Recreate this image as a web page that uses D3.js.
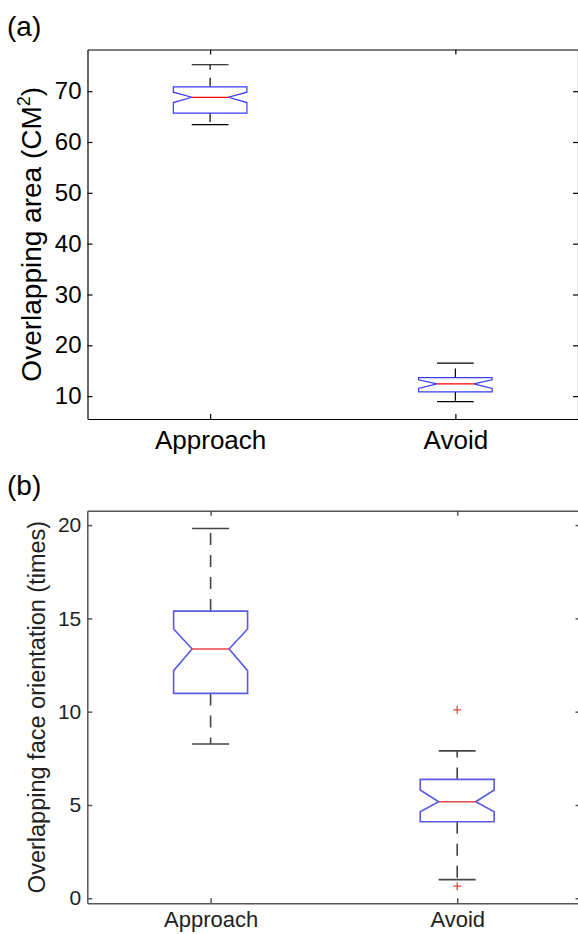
<!DOCTYPE html>
<html>
<head>
<meta charset="utf-8">
<script src="https://cdn.jsdelivr.net/npm/d3@7"></script>
<style>
  body { margin: 0; background: #fff; }
  svg { display: block; font-family: "Liberation Sans", Arial, sans-serif; }
</style>
</head>
<body>
<svg id="chart"></svg>
<script>
// categories shared by both panels
let categories = ["Approach", "Avoid"];

// (a) Overlapping area (CM^2)
let areaQ1 = [65.7, 10.85];
let areaMedian = [68.8, 12.42];
let areaQ3 = [70.85, 13.66];
let areaNotchLow = [67.76, 11.5];
let areaNotchHigh = [69.8, 13.2];
let areaWhiskerLow = [63.4, 8.9];
let areaWhiskerHigh = [75.2, 16.5];
let areaOutliers = [[], []];
let areaTicks = [10, 20, 30, 40, 50, 60, 70];
let areaLimits = [5.5, 78.2];

// (b) Overlapping face orientation (times)
let faceQ1 = [10.98, 4.1];
let faceMedian = [13.36, 5.17];
let faceQ3 = [15.39, 6.37];
let faceNotchLow = [12.2, 4.64];
let faceNotchHigh = [14.43, 5.8];
let faceWhiskerLow = [8.27, 1.0];
let faceWhiskerHigh = [19.82, 7.9];
let faceOutliers = [[], [10.1, 0.65]];
let faceTicks = [0, 5, 10, 15, 20];
let faceLimits = [-0.27, 20.77];

let width = 578;
let height = 934;

let svg = d3.select("#chart")
  .attr("width", width)
  .attr("height", height)
  .attr("viewBox", `0 0 ${width} ${height}`);

svg.append("rect").attr("width", width).attr("height", height).attr("fill", "#fff");

function drawPanel(p) {
  let g = svg.append("g");

  let x = d3.scaleLinear().domain([0.5, 2.5]).range([p.left, p.right]);
  let y = d3.scaleLinear().domain(p.limits).range([p.bottom, p.top]);

  // axes, ticks pointing inward like matlab
  let left = g.append("g")
    .attr("transform", `translate(${p.left},0)`)
    .call(d3.axisLeft(y).tickValues(p.ticks).tickSizeInner(-5).tickSizeOuter(0).tickPadding(p.tickPad));
  let right = g.append("g")
    .attr("transform", `translate(${p.right},0)`)
    .call(d3.axisRight(y).tickValues(p.ticks).tickSizeInner(-5).tickSizeOuter(0).tickFormat(""));
  let top = g.append("g")
    .attr("transform", `translate(0,${p.top})`)
    .call(d3.axisTop(x).tickValues([1, 2]).tickSizeInner(-5).tickSizeOuter(0).tickFormat(""));
  let bottom = g.append("g")
    .attr("transform", `translate(0,${p.bottom})`)
    .call(d3.axisBottom(x).tickValues([1, 2]).tickSizeInner(-5).tickSizeOuter(0)
      .tickPadding(p.xPad).tickFormat(function (d) { return categories[d - 1]; }));

  [left, right, top, bottom].forEach(function (a) {
    a.select(".domain").attr("stroke", p.axisColor).attr("stroke-width", p.axisWidth);
    a.selectAll(".tick line").attr("stroke", p.axisColor).attr("stroke-width", p.axisWidth);
    a.selectAll("text").attr("fill", p.textColor).attr("font-family", null);
  });
  left.selectAll("text").attr("font-size", p.tickFont);
  bottom.selectAll("text").attr("font-size", p.xFont);
  left.attr("font-size", null);
  bottom.attr("font-size", null);

  let bw = x(1.3) - x(1);

  categories.forEach(function (c, i) {
    let cx = x(i + 1);
    let l = cx - bw / 2, r = cx + bw / 2, ins = bw / 4;

    // whiskers
    g.append("line")
      .attr("x1", cx).attr("x2", cx)
      .attr("y1", y(p.q3[i])).attr("y2", y(p.whHigh[i]))
      .attr("stroke", p.whiskerColor).attr("stroke-width", p.lineWidth)
      .attr("stroke-dasharray", p.dash);
    g.append("line")
      .attr("x1", cx).attr("x2", cx)
      .attr("y1", y(p.q1[i])).attr("y2", y(p.whLow[i]))
      .attr("stroke", p.whiskerColor).attr("stroke-width", p.lineWidth)
      .attr("stroke-dasharray", p.dash);
    [p.whHigh[i], p.whLow[i]].forEach(function (v) {
      g.append("line")
        .attr("x1", cx - bw / 4).attr("x2", cx + bw / 4)
        .attr("y1", y(v)).attr("y2", y(v))
        .attr("stroke", p.whiskerColor).attr("stroke-width", p.lineWidth);
    });

    // notched box
    let path = d3.path();
    path.moveTo(l, y(p.q3[i]));
    path.lineTo(r, y(p.q3[i]));
    path.lineTo(r, y(p.nHigh[i]));
    path.lineTo(r - ins, y(p.med[i]));
    path.lineTo(r, y(p.nLow[i]));
    path.lineTo(r, y(p.q1[i]));
    path.lineTo(l, y(p.q1[i]));
    path.lineTo(l, y(p.nLow[i]));
    path.lineTo(l + ins, y(p.med[i]));
    path.lineTo(l, y(p.nHigh[i]));
    path.closePath();
    g.append("path")
      .attr("d", path.toString())
      .attr("fill", "none")
      .attr("stroke", p.boxColor)
      .attr("stroke-width", p.lineWidth);

    // median
    g.append("line")
      .attr("x1", l + ins).attr("x2", r - ins)
      .attr("y1", y(p.med[i])).attr("y2", y(p.med[i]))
      .attr("stroke", p.medianColor).attr("stroke-width", p.lineWidth);

    // outliers
    p.outliers[i].forEach(function (v) {
      g.append("path")
        .attr("d", `M${cx - 4},${y(v)}H${cx + 4}M${cx},${y(v) - 4}V${y(v) + 4}`)
        .attr("stroke", p.medianColor).attr("stroke-width", 1.3);
    });
  });

  // y label
  let yl = g.append("text")
    .attr("transform", `translate(${p.yLabelX},${(p.top + p.bottom) / 2}) rotate(-90)`)
    .attr("text-anchor", "middle")
    .attr("font-size", p.yLabelFont)
    .attr("fill", p.textColor);
  p.yLabel(yl);

  // panel letter
  g.append("text")
    .attr("x", 7)
    .attr("y", p.letterY)
    .attr("font-size", p.letterFont)
    .attr("fill", "#000")
    .text(p.letter);
}

drawPanel({
  left: 87.5, right: 578, top: 49.5, bottom: 419,
  limits: areaLimits, ticks: areaTicks,
  q1: areaQ1, med: areaMedian, q3: areaQ3,
  nLow: areaNotchLow, nHigh: areaNotchHigh,
  whLow: areaWhiskerLow, whHigh: areaWhiskerHigh, outliers: areaOutliers,
  axisColor: "#000", axisWidth: 1.2, textColor: "#000",
  boxColor: "#3a3aff", medianColor: "#ff0000", whiskerColor: "#000",
  lineWidth: 1.2, dash: "9,8",
  tickFont: 24, tickPad: 6, xFont: 26, xPad: 12,
  yLabelX: 41, yLabelFont: 28,
  yLabel: function (t) {
    t.append("tspan").text("Overlapping area (CM");
    t.append("tspan").attr("font-size", 18).attr("dy", -11).text("2");
    t.append("tspan").attr("dy", 11).text(")");
  },
  letter: "(a)", letterY: 36, letterFont: 28
});

drawPanel({
  left: 87.3, right: 580.5, top: 510.7, bottom: 903.3,
  limits: faceLimits, ticks: faceTicks,
  q1: faceQ1, med: faceMedian, q3: faceQ3,
  nLow: faceNotchLow, nHigh: faceNotchHigh,
  whLow: faceWhiskerLow, whHigh: faceWhiskerHigh, outliers: faceOutliers,
  axisColor: "#555", axisWidth: 1.5, textColor: "#222",
  boxColor: "#5a5ae6", medianColor: "#ee4444", whiskerColor: "#444",
  lineWidth: 1.6, dash: "12,10",
  tickFont: 21, tickPad: 6, xFont: 22, xPad: 8,
  yLabelX: 45, yLabelFont: 23.5,
  yLabel: function (t) {
    t.text("Overlapping face orientation (times)");
  },
  letter: "(b)", letterY: 495, letterFont: 28
});
</script>
</body>
</html>
